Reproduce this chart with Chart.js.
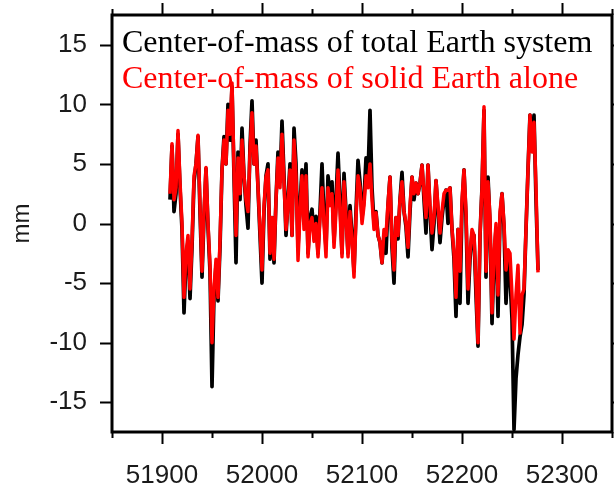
<!DOCTYPE html>
<html>
<head>
<meta charset="utf-8">
<script src="https://cdn.jsdelivr.net/npm/chart.js@4.4.1/dist/chart.umd.min.js"></script>
<style>
  html, body { margin: 0; padding: 0; background: #fff; }
  #wrap { width: 614px; height: 484px; position: relative; }
</style>
</head>
<body>
<div id="wrap"><canvas id="comChart"></canvas></div>
<script>
'use strict'
// MJD of each sample
var days = [
  51908, 51910, 51912, 51914, 51916, 51918, 51920, 51922, 51924, 51926,
  51928, 51930, 51932, 51934, 51936, 51938, 51940, 51942, 51944, 51946,
  51948, 51950, 51952, 51954, 51956, 51958, 51960, 51962, 51964, 51966,
  51968, 51970, 51972, 51974, 51976, 51978, 51980, 51982, 51984, 51986,
  51988, 51990, 51992, 51994, 51996, 51998, 52000, 52002, 52004, 52006,
  52008, 52010, 52012, 52014, 52016, 52018, 52020, 52022, 52024, 52026,
  52028, 52030, 52032, 52034, 52036, 52038, 52040, 52042, 52044, 52046,
  52048, 52050, 52052, 52054, 52056, 52058, 52060, 52062, 52064, 52066,
  52068, 52070, 52072, 52074, 52076, 52078, 52080, 52082, 52084, 52086,
  52088, 52090, 52092, 52094, 52096, 52098, 52100, 52102, 52104, 52106,
  52108, 52110, 52112, 52114, 52116, 52118, 52120, 52122, 52124, 52126,
  52128, 52130, 52132, 52134, 52136, 52138, 52140, 52142, 52144, 52146,
  52148, 52150, 52152, 52154, 52156, 52158, 52160, 52162, 52164, 52166,
  52168, 52170, 52172, 52174, 52176, 52178, 52180, 52182, 52184, 52186,
  52188, 52190, 52192, 52194, 52196, 52198, 52200, 52202, 52204, 52206,
  52208, 52210, 52212, 52214, 52216, 52218, 52220, 52222, 52224, 52226,
  52228, 52230, 52232, 52234, 52236, 52238, 52240, 52242, 52244, 52246,
  52248, 52250, 52252, 52254, 52256, 52258, 52260, 52262, 52264, 52266,
  52268, 52270, 52272, 52274, 52276
];

// offset of center-of-mass of total Earth system (mm)
var totalEarth = [
  2.0, 6.5, 1.0, 2.5, 7.5, 3.0, -0.5, -7.5, -3.0, -1.5,
  -6.3, -2.0, 3.5, 5.0, 7.3, 1.0, -4.5, 0.5, 4.6, -0.3,
  -4.0, -13.7, -6.0, -3.5, -6.5, -2.0, 4.5, 7.3, 5.0, 10.0,
  7.0, 11.5, 4.0, -3.3, 6.0, 2.0, 8.0, 4.0, 1.5, -0.4,
  6.5, 10.3, 5.0, 7.0, 3.0, -1.0, -5.0, 1.0, 4.0, 5.0,
  -3.0, 0.5, -3.3, 2.0, 6.0, 3.5, 8.6, 4.0, -1.0, 2.0,
  5.0, -1.0, 8.0, 5.0, -2.0, 1.5, 4.5, 0.0, 5.0, -2.5,
  0.5, 1.2, -1.0, 0.6, -2.5, 1.0, 5.0, 0.5, -2.0, 4.0,
  2.5, 3.5, -1.5, 2.0, 5.9, 2.0, -2.5, 4.2, 1.0, -2.5,
  1.5, -1.0, -4.0, 1.0, 5.3, 3.5, 0.5, 2.0, 5.5, 4.0,
  9.5, 3.0, 0.0, 1.0, -1.0, -1.6, -3.3, -1.0, -2.5, 1.5,
  3.9, -2.0, -5.0, 0.5, -1.3, 2.0, 4.3, 1.0, -0.3, -2.8,
  1.0, 3.9, 2.0, 3.4, 2.5, 3.4, 4.9, 2.0, -0.8, 4.9,
  0.9, -2.2, 0.0, 3.6, 1.0, -1.6, 0.5, 2.0, 2.8, 0.0,
  3.0, -0.5, -3.0, -7.8, -0.5, -6.7, 1.5, 4.5, 0.5, -6.7,
  -3.0, -0.8, -1.0, -6.0, -10.3, -1.0, 3.0, 9.5, -4.5, 3.9,
  0.0, -8.4, -3.0, -0.5, -7.8, 0.5, 2.5, -0.3, -6.7, -3.0,
  -4.5, -8.0, -17.3, -13.0, -11.0, -9.5, -8.5, -6.0, -0.5, 4.5,
  9.1, 6.5, 9.1, 2.0, -3.9
];

// offset of center-of-mass of solid Earth alone (mm)
var solidEarth = [
  2.5, 6.7, 2.0, 3.0, 7.8, 3.5, 0.0, -6.2, -2.5, -1.0,
  -5.5, -1.5, 4.0, 5.0, 7.4, 1.5, -4.0, 1.0, 4.7, 0.0,
  -3.5, -10.0, -5.5, -3.0, -6.2, -1.5, 4.5, 7.0, 5.0, 9.5,
  7.5, 11.8, 4.5, -1.0, 5.5, 2.5, 7.0, 4.0, 2.0, 1.0,
  6.0, 9.3, 5.0, 6.5, 3.0, -0.5, -3.9, 1.5, 3.9, 4.5,
  -2.5, 0.5, -3.0, 2.0, 5.5, 3.0, 7.5, 3.5, -0.5, 1.5,
  4.5, -1.0, 7.0, 4.0, -3.1, 1.0, 4.0, -0.5, 4.0, -2.8,
  0.0, 0.5, -1.5, 0.0, -2.8, 0.5, 3.0, 0.0, -2.8, 3.0,
  1.5, 2.5, -2.0, 1.0, 4.5, 1.0, -2.8, 3.5, 0.5, -2.8,
  1.0, -1.5, -4.5, 0.5, 4.0, 3.0, 0.0, 1.5, 4.0, 3.0,
  5.0, 2.0, -0.5, 0.9, -1.0, -1.6, -3.3, -0.5, -1.0, 1.7,
  3.9, -1.5, -3.9, 0.5, -1.0, 2.0, 3.5, 1.0, 0.0, -2.0,
  1.5, 3.9, 2.5, 3.4, 2.5, 3.4, 4.9, 2.5, 0.5, 4.9,
  1.5, -0.8, 0.5, 3.6, 1.5, -0.8, 1.0, 2.5, 2.8, 2.8,
  3.0, -0.5, -2.5, -6.2, -0.5, -4.0, 2.0, 4.5, 1.0, -5.5,
  -2.5, -0.5, -1.0, -5.0, -10.0, -1.0, 3.0, 9.8, -4.0, 3.5,
  0.5, -7.5, -2.5, 0.0, -6.0, 1.0, 2.5, 0.0, -3.9, -2.2,
  -2.5, -6.0, -9.7, -6.0, -3.5, -9.2, -6.0, -5.5, -0.5, 4.5,
  9.1, 6.0, 8.5, 3.0, -4.1
];

var seriesNames = ['Center-of-mass of total Earth system', 'Center-of-mass of solid Earth alone'];
var seriesColors = ['#000000', '#ff0000'];

// axis ticks
var xLabelTicks = [51900, 52000, 52100, 52200, 52300];
var xMinorTicks = [51850, 51950, 52050, 52150, 52250, 52350];
var yLabelTicks = [-15, -10, -5, 0, 5, 10, 15];

function toPoints(values) {
    var pts = [];
    for (var i = 0; i < days.length; i++) {
        pts.push({ x: days[i], y: values[i] });
    }
    return pts;
}

// frame box, tick marks on all four sides, and the two coloured captions
var framePlugin = {
    id: 'frame',
    afterDraw: function (chart) {
        var ctx = chart.ctx;
        var a = chart.chartArea;
        var xs = chart.scales.x;
        var ys = chart.scales.y;
        ctx.save();
        ctx.strokeStyle = '#000';
        ctx.lineWidth = 2;

        ctx.beginPath();
        xLabelTicks.forEach(function (v) {
            var px = Math.round(xs.getPixelForValue(v)) + 0.5;
            ctx.moveTo(px, a.bottom); ctx.lineTo(px, a.bottom + 12);
            ctx.moveTo(px, a.top); ctx.lineTo(px, a.top - 12);
        });
        xMinorTicks.forEach(function (v) {
            var px = Math.round(xs.getPixelForValue(v)) + 0.5;
            ctx.moveTo(px, a.bottom); ctx.lineTo(px, a.bottom + 6);
            ctx.moveTo(px, a.top); ctx.lineTo(px, a.top - 6);
        });
        yLabelTicks.forEach(function (v) {
            var py = Math.round(ys.getPixelForValue(v)) + 0.5;
            ctx.moveTo(a.left, py); ctx.lineTo(a.left - 12, py);
            ctx.moveTo(a.right, py); ctx.lineTo(a.right + 12, py);
        });
        ctx.stroke();

        ctx.lineWidth = 3;
        ctx.strokeRect(a.left, a.top, a.right - a.left, a.bottom - a.top);

        ctx.font = '32px "Liberation Serif", "Times New Roman", serif';
        ctx.textAlign = 'left';
        ctx.textBaseline = 'alphabetic';
        chart.data.datasets.forEach(function (ds, i) {
            ctx.fillStyle = ds.borderColor;
            ctx.fillText(ds.label, a.left + 10, a.top + 37 + i * 36);
        });
        ctx.restore();
    }
};

// keep the plot box fixed: no extra room for half-labels at the ends
function noEndPadding(axis) {
    axis.paddingTop = 0;
    axis.paddingBottom = 0;
    axis.paddingLeft = 0;
    axis.paddingRight = 0;
}

var ctx = document.getElementById('comChart').getContext('2d');
var chart = new Chart(ctx, {
    type: 'line',
    data: {
        datasets: [{
            label: seriesNames[0],
            data: toPoints(totalEarth),
            borderColor: seriesColors[0],
            borderWidth: 3.7,
            pointRadius: 0,
            borderJoinStyle: 'round',
            order: 2
        }, {
            label: seriesNames[1],
            data: toPoints(solidEarth),
            borderColor: seriesColors[1],
            borderWidth: 3.5,
            pointRadius: 0,
            borderJoinStyle: 'round',
            order: 1
        }]
    },
    options: {
        responsive: true,
        maintainAspectRatio: false,
        animation: false,
        layout: { padding: { top: 15, right: 2, left: 0, bottom: 0 } },
        plugins: {
            legend: { display: false },
            tooltip: { enabled: false }
        },
        scales: {
            x: {
                type: 'linear',
                min: 51850,
                max: 52350,
                afterBuildTicks: function (axis) {
                    axis.ticks = xLabelTicks.map(function (v) { return { value: v }; });
                },
                afterFit: function (axis) { axis.height = 52; noEndPadding(axis); },
                grid: { display: false },
                border: { display: false },
                ticks: {
                    autoSkip: false,
                    maxRotation: 0,
                    padding: 20,
                    color: '#1a1a1a',
                    font: { family: '"Liberation Sans", Arial, sans-serif', size: 26 },
                    callback: function (v) { return String(v); }
                }
            },
            y: {
                min: -17.5,
                max: 17.5,
                afterBuildTicks: function (axis) {
                    axis.ticks = yLabelTicks.map(function (v) { return { value: v }; });
                },
                afterFit: function (axis) { axis.width = 112; noEndPadding(axis); },
                grid: { display: false },
                border: { display: false },
                ticks: {
                    padding: 17,
                    color: '#1a1a1a',
                    font: { family: '"Liberation Sans", Arial, sans-serif', size: 26 },
                    callback: function (v) { return String(v); }
                },
                title: {
                    display: true,
                    text: 'mm',
                    color: '#1a1a1a',
                    padding: { top: 8, bottom: 0 },
                    font: { family: '"Liberation Sans", Arial, sans-serif', size: 24 }
                }
            }
        }
    },
    plugins: [framePlugin]
});
</script>
</body>
</html>
